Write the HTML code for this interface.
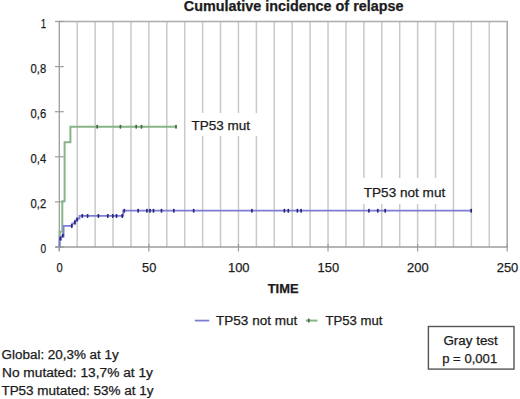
<!DOCTYPE html>
<html><head><meta charset="utf-8"><style>
html,body{margin:0;padding:0;background:#fff;}
body{width:520px;height:399px;overflow:hidden;}
svg{display:block;}
text{font-family:"Liberation Sans",sans-serif;fill:#1c1c1c;stroke:#1c1c1c;stroke-width:0.25px;}
</style></head><body>
<svg width="520" height="399" viewBox="0 0 520 399">
<rect width="520" height="399" fill="#fff"/>
<line x1="77.22" y1="21.5" x2="77.22" y2="247.0" stroke="#c9c9c9" stroke-width="1.5"/>
<line x1="95.13" y1="21.5" x2="95.13" y2="247.0" stroke="#c9c9c9" stroke-width="1.5"/>
<line x1="113.05" y1="21.5" x2="113.05" y2="247.0" stroke="#c9c9c9" stroke-width="1.5"/>
<line x1="130.96" y1="21.5" x2="130.96" y2="247.0" stroke="#c9c9c9" stroke-width="1.5"/>
<line x1="148.88" y1="21.5" x2="148.88" y2="247.0" stroke="#c9c9c9" stroke-width="1.5"/>
<line x1="166.80" y1="21.5" x2="166.80" y2="247.0" stroke="#c9c9c9" stroke-width="1.5"/>
<line x1="184.71" y1="21.5" x2="184.71" y2="247.0" stroke="#c9c9c9" stroke-width="1.5"/>
<line x1="202.63" y1="21.5" x2="202.63" y2="247.0" stroke="#c9c9c9" stroke-width="1.5"/>
<line x1="220.54" y1="21.5" x2="220.54" y2="247.0" stroke="#c9c9c9" stroke-width="1.5"/>
<line x1="238.46" y1="21.5" x2="238.46" y2="247.0" stroke="#c9c9c9" stroke-width="1.5"/>
<line x1="256.38" y1="21.5" x2="256.38" y2="247.0" stroke="#c9c9c9" stroke-width="1.5"/>
<line x1="274.29" y1="21.5" x2="274.29" y2="247.0" stroke="#c9c9c9" stroke-width="1.5"/>
<line x1="292.21" y1="21.5" x2="292.21" y2="247.0" stroke="#c9c9c9" stroke-width="1.5"/>
<line x1="310.12" y1="21.5" x2="310.12" y2="247.0" stroke="#c9c9c9" stroke-width="1.5"/>
<line x1="328.04" y1="21.5" x2="328.04" y2="247.0" stroke="#c9c9c9" stroke-width="1.5"/>
<line x1="345.96" y1="21.5" x2="345.96" y2="247.0" stroke="#c9c9c9" stroke-width="1.5"/>
<line x1="363.87" y1="21.5" x2="363.87" y2="247.0" stroke="#c9c9c9" stroke-width="1.5"/>
<line x1="381.79" y1="21.5" x2="381.79" y2="247.0" stroke="#c9c9c9" stroke-width="1.5"/>
<line x1="399.70" y1="21.5" x2="399.70" y2="247.0" stroke="#c9c9c9" stroke-width="1.5"/>
<line x1="417.62" y1="21.5" x2="417.62" y2="247.0" stroke="#c9c9c9" stroke-width="1.5"/>
<line x1="435.54" y1="21.5" x2="435.54" y2="247.0" stroke="#c9c9c9" stroke-width="1.5"/>
<line x1="453.45" y1="21.5" x2="453.45" y2="247.0" stroke="#c9c9c9" stroke-width="1.5"/>
<line x1="471.37" y1="21.5" x2="471.37" y2="247.0" stroke="#c9c9c9" stroke-width="1.5"/>
<line x1="489.28" y1="21.5" x2="489.28" y2="247.0" stroke="#c9c9c9" stroke-width="1.5"/>
<polyline points="59.3,21.5 507.2,21.5 507.2,247.0" fill="none" stroke="#acacac" stroke-width="1.6"/>
<line x1="59.3" y1="20.7" x2="59.3" y2="251.0" stroke="#9c9c9c" stroke-width="1.3"/>
<line x1="55.3" y1="247.0" x2="508.0" y2="247.0" stroke="#9c9c9c" stroke-width="1.3"/>
<line x1="55" y1="247.00" x2="63.8" y2="247.00" stroke="#9c9c9c" stroke-width="1.2"/>
<line x1="55" y1="201.90" x2="63.8" y2="201.90" stroke="#9c9c9c" stroke-width="1.2"/>
<line x1="55" y1="156.80" x2="63.8" y2="156.80" stroke="#9c9c9c" stroke-width="1.2"/>
<line x1="55" y1="111.70" x2="63.8" y2="111.70" stroke="#9c9c9c" stroke-width="1.2"/>
<line x1="55" y1="66.60" x2="63.8" y2="66.60" stroke="#9c9c9c" stroke-width="1.2"/>
<line x1="55" y1="21.50" x2="63.8" y2="21.50" stroke="#9c9c9c" stroke-width="1.2"/>
<line x1="59.30" y1="244.0" x2="59.30" y2="251.5" stroke="#9c9c9c" stroke-width="1.2"/>
<line x1="148.88" y1="244.0" x2="148.88" y2="251.5" stroke="#9c9c9c" stroke-width="1.2"/>
<line x1="238.46" y1="244.0" x2="238.46" y2="251.5" stroke="#9c9c9c" stroke-width="1.2"/>
<line x1="328.04" y1="244.0" x2="328.04" y2="251.5" stroke="#9c9c9c" stroke-width="1.2"/>
<line x1="417.62" y1="244.0" x2="417.62" y2="251.5" stroke="#9c9c9c" stroke-width="1.2"/>
<line x1="507.20" y1="244.0" x2="507.20" y2="251.5" stroke="#9c9c9c" stroke-width="1.2"/>
<rect x="186" y="113" width="86" height="23" fill="#fff"/>
<rect x="356" y="178" width="96" height="26" fill="#fff"/>
<text x="40.60" y="253.00" font-size="12.8" textLength="5.6" lengthAdjust="spacingAndGlyphs">0</text>
<text x="30.60" y="207.90" font-size="12.8" textLength="15.6" lengthAdjust="spacingAndGlyphs">0,2</text>
<text x="30.60" y="162.80" font-size="12.8" textLength="15.6" lengthAdjust="spacingAndGlyphs">0,4</text>
<text x="30.60" y="117.70" font-size="12.8" textLength="15.6" lengthAdjust="spacingAndGlyphs">0,6</text>
<text x="30.60" y="72.60" font-size="12.8" textLength="15.6" lengthAdjust="spacingAndGlyphs">0,8</text>
<text x="40.80" y="27.50" font-size="12.8" textLength="5.4" lengthAdjust="spacingAndGlyphs">1</text>
<text x="56.50" y="271.8" font-size="13" textLength="6.2" lengthAdjust="spacingAndGlyphs">0</text>
<text x="142.08" y="271.8" font-size="13" textLength="14.2" lengthAdjust="spacingAndGlyphs">50</text>
<text x="227.96" y="271.8" font-size="13" textLength="21.6" lengthAdjust="spacingAndGlyphs">100</text>
<text x="317.54" y="271.8" font-size="13" textLength="21.6" lengthAdjust="spacingAndGlyphs">150</text>
<text x="407.12" y="271.8" font-size="13" textLength="21.6" lengthAdjust="spacingAndGlyphs">200</text>
<text x="496.70" y="271.8" font-size="13" textLength="21.6" lengthAdjust="spacingAndGlyphs">250</text>
<polyline points="59.30,247.00 59.70,247.00 59.70,231.80 62.30,231.80 62.30,201.30 64.60,201.30 64.60,142.20 70.40,142.20 70.40,126.80 176.65,126.80" fill="none" stroke="#88b488" stroke-width="2"/>
<polyline points="59.30,247.00 59.60,247.00 59.60,239.50 61.20,239.50 61.20,236.50 63.60,236.50 63.60,225.90 72.20,225.90 72.20,223.50 75.20,223.50 75.20,220.50 77.40,220.50 77.40,218.50 79.50,218.50 79.50,215.90 123.20,215.90 123.20,210.70 471.37,210.70" fill="none" stroke="#7f7cd4" stroke-width="1.8"/>
<rect x="59.45" y="236.50" width="1.7" height="4" rx="0.7" fill="#262680"/>
<rect x="61.95" y="233.50" width="1.7" height="4" rx="0.7" fill="#262680"/>
<rect x="70.95" y="223.90" width="1.7" height="4" rx="0.7" fill="#262680"/>
<rect x="73.95" y="220.50" width="1.7" height="4" rx="0.7" fill="#262680"/>
<rect x="76.15" y="217.50" width="1.7" height="4" rx="0.7" fill="#262680"/>
<rect x="81.45" y="213.90" width="1.7" height="4" rx="0.7" fill="#262680"/>
<rect x="86.75" y="213.90" width="1.7" height="4" rx="0.7" fill="#262680"/>
<rect x="97.55" y="213.90" width="1.7" height="4" rx="0.7" fill="#262680"/>
<rect x="106.95" y="213.90" width="1.7" height="4" rx="0.7" fill="#262680"/>
<rect x="111.95" y="213.90" width="1.7" height="4" rx="0.7" fill="#262680"/>
<rect x="115.65" y="213.90" width="1.7" height="4" rx="0.7" fill="#262680"/>
<rect x="121.35" y="213.90" width="1.7" height="4" rx="0.7" fill="#262680"/>
<rect x="123.45" y="208.70" width="1.7" height="4" rx="0.7" fill="#262680"/>
<rect x="137.35" y="208.70" width="1.7" height="4" rx="0.7" fill="#262680"/>
<rect x="146.05" y="208.70" width="1.7" height="4" rx="0.7" fill="#262680"/>
<rect x="149.15" y="208.70" width="1.7" height="4" rx="0.7" fill="#262680"/>
<rect x="152.65" y="208.70" width="1.7" height="4" rx="0.7" fill="#262680"/>
<rect x="160.65" y="208.70" width="1.7" height="4" rx="0.7" fill="#262680"/>
<rect x="172.95" y="208.70" width="1.7" height="4" rx="0.7" fill="#262680"/>
<rect x="192.85" y="208.70" width="1.7" height="4" rx="0.7" fill="#262680"/>
<rect x="251.05" y="208.70" width="1.7" height="4" rx="0.7" fill="#262680"/>
<rect x="283.55" y="208.70" width="1.7" height="4" rx="0.7" fill="#262680"/>
<rect x="287.45" y="208.70" width="1.7" height="4" rx="0.7" fill="#262680"/>
<rect x="296.55" y="208.70" width="1.7" height="4" rx="0.7" fill="#262680"/>
<rect x="300.25" y="208.70" width="1.7" height="4" rx="0.7" fill="#262680"/>
<rect x="368.05" y="208.70" width="1.7" height="4" rx="0.7" fill="#262680"/>
<rect x="376.95" y="208.70" width="1.7" height="4" rx="0.7" fill="#262680"/>
<rect x="384.35" y="208.70" width="1.7" height="4" rx="0.7" fill="#262680"/>
<rect x="470.35" y="208.70" width="1.7" height="4" rx="0.7" fill="#262680"/>
<rect x="96.35" y="124.80" width="1.7" height="4" rx="0.7" fill="#3e6e3e"/>
<rect x="119.55" y="124.80" width="1.7" height="4" rx="0.7" fill="#3e6e3e"/>
<rect x="135.35" y="124.80" width="1.7" height="4" rx="0.7" fill="#3e6e3e"/>
<rect x="140.65" y="124.80" width="1.7" height="4" rx="0.7" fill="#3e6e3e"/>
<rect x="175.15" y="124.80" width="1.7" height="4" rx="0.7" fill="#3e6e3e"/>
<text x="191.5" y="130" font-size="13" textLength="58.5" lengthAdjust="spacingAndGlyphs">TP53 mut</text>
<text x="363.8" y="197.2" font-size="13" textLength="81.4" lengthAdjust="spacingAndGlyphs">TP53 not mut</text>
<text x="183.8" y="11.2" font-size="14" font-weight="bold" textLength="219.7" lengthAdjust="spacingAndGlyphs">Cumulative incidence of relapse</text>
<text x="267.7" y="292.8" font-size="12" font-weight="bold" textLength="30.8" lengthAdjust="spacingAndGlyphs">TIME</text>
<line x1="194.8" y1="320.6" x2="209.2" y2="320.6" stroke="#7f7cd4" stroke-width="1.8"/>
<text x="216" y="325.4" font-size="12.5" textLength="81.3" lengthAdjust="spacingAndGlyphs">TP53 not mut</text>
<line x1="305.8" y1="320.6" x2="317.5" y2="320.6" stroke="#88b488" stroke-width="2"/>
<rect x="307.95" y="318.60" width="1.7" height="4" rx="0.7" fill="#3e6e3e"/>
<text x="325.5" y="325.4" font-size="12.5" textLength="57" lengthAdjust="spacingAndGlyphs">TP53 mut</text>
<text x="1.6" y="358.9" font-size="12" textLength="117.1" lengthAdjust="spacingAndGlyphs">Global: 20,3% at 1y</text>
<text x="2" y="376.8" font-size="12" textLength="150.9" lengthAdjust="spacingAndGlyphs">No mutated: 13,7% at 1y</text>
<text x="1.4" y="394.7" font-size="12" textLength="152.2" lengthAdjust="spacingAndGlyphs">TP53 mutated: 53% at 1y</text>
<rect x="428.4" y="326.5" width="85.6" height="42.6" fill="#fff" stroke="#555" stroke-width="1.4"/>
<text x="443.4" y="344.9" font-size="12.5" textLength="54.4" lengthAdjust="spacingAndGlyphs">Gray test</text>
<text x="442.2" y="363" font-size="12.5" textLength="55" lengthAdjust="spacingAndGlyphs">p = 0,001</text>
</svg>
</body></html>
